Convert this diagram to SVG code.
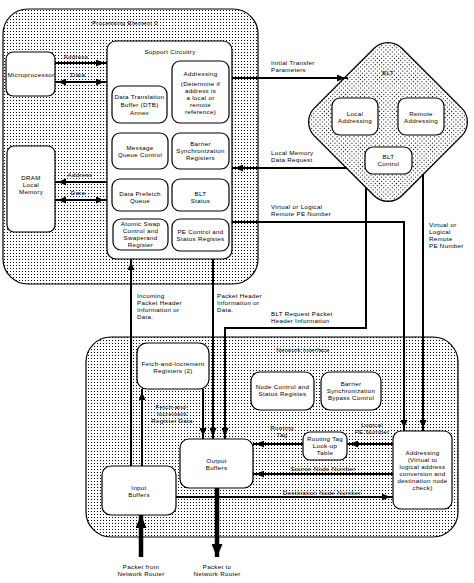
<svg xmlns="http://www.w3.org/2000/svg" width="474" height="583" viewBox="0 0 474 583">
<style>
text{font-family:"Liberation Sans",Arial,sans-serif;font-size:6.2px;letter-spacing:0.3px;fill:#000}
.c{text-anchor:middle}
.outer{fill:url(#dots);stroke:#000;stroke-width:1.2}
.box{fill:#fff;stroke:#000;stroke-width:1.2}
.ln{fill:none;stroke:#000;stroke-width:2}
.ar{marker-end:url(#a)}
.dbl{marker-start:url(#a);marker-end:url(#a)}
.thick{fill:none;stroke:#000;stroke-width:4.5;marker-end:url(#b)}
</style>
<defs>
<pattern id="dots" width="3" height="3" patternUnits="userSpaceOnUse"><rect x="1" y="1" width="1" height="1" fill="#000"/></pattern>
<marker id="a" viewBox="0 0 8 7" refX="11" refY="3.5" markerWidth="8" markerHeight="7" markerUnits="userSpaceOnUse" orient="auto-start-reverse"><path d="M0,0 L8,3.5 L0,7 z" fill="#000"/></marker>
<marker id="b" viewBox="0 0 13 11" refX="13" refY="5.5" markerWidth="13" markerHeight="11" markerUnits="userSpaceOnUse" orient="auto"><path d="M0,0 L13,5.5 L0,11 z" fill="#000"/></marker>
</defs>
<rect width="474" height="583" fill="#fff"/>

<g id="pe0">
<rect class="outer" x="3" y="9" width="255" height="275" rx="25"/>
<text class="c" x="125" y="25">Processing Element 0</text>
</g>
<g id="network-interface">
<rect class="outer" x="86" y="337" width="372" height="200" rx="25"/>
<text class="c" x="303" y="352">Network Interface</text>
</g>
<g id="blt">
<rect class="outer" x="-62" y="-62" width="124" height="124" rx="20" transform="translate(388,122) rotate(45)"/>
<text class="c" x="388" y="75">BLT</text>
</g>

<g id="connectors">
<path class="ln ar" d="M55,63 H107"/>
<path class="ln dbl" d="M55,82 H107"/>
<path class="ln ar" d="M107,182 H55"/>
<path class="ln dbl" d="M55,200 H107"/>
<path class="ln ar" d="M232,78 H348"/>
<path class="ln ar" d="M347,168 H232"/>
<path class="ln ar" d="M232,222 H404 V431"/>
<path class="ln ar" d="M423,174 V431"/>
<path class="ln ar" d="M366,187 V328 H225 V439"/>
<path class="ln ar" d="M213,259 V439"/>
<path class="ln ar" d="M131,466 V259"/>
<path class="ln ar" d="M142,466 V389"/>
<path class="ln ar" d="M203,389 V439"/>
<path class="ln ar" d="M303,444 H253"/>
<path class="ln ar" d="M393,444 H347"/>
<path class="ln ar" d="M393,474 H253"/>
<path class="ln ar" d="M176,497 H393"/>
<path class="thick" d="M141,557 V515"/>
<path class="thick" d="M217,488 V557"/>
<text class="c" x="76" y="59">Address</text>
<text class="c" x="78" y="77">Data</text>
<text class="c" x="80" y="177">Address</text>
<text class="c" x="78" y="195">Data</text>
<text x="271" y="65">Initial Transfer</text>
<text x="271" y="72">Parameters</text>
<text x="271" y="155">Local Memory</text>
<text x="271" y="162">Data Request</text>
<text x="271" y="209">Virtual or Logical</text>
<text x="271" y="216">Remote PE Number</text>
<text x="429" y="227">Virtual or</text>
<text x="429" y="234">Logical</text>
<text x="429" y="241">Remote</text>
<text x="429" y="248">PE Number</text>
<text x="271" y="316">BLT Request Packet</text>
<text x="271" y="323">Header Information</text>
<text x="217" y="298">Packet Header</text>
<text x="217" y="305">Information or</text>
<text x="217" y="312">Data.</text>
<text x="137" y="298">Incoming</text>
<text x="137" y="305">Packet Header</text>
<text x="137" y="312">Information or</text>
<text x="137" y="319">Data.</text>
<text class="c" x="172" y="409">Fetch-and-</text>
<text class="c" x="172" y="416">Increment</text>
<text class="c" x="172" y="423">Register Data</text>
<text class="c" x="282" y="430">Routing</text>
<text class="c" x="282" y="437">Tag</text>
<text class="c" x="372" y="427">Logical</text>
<text class="c" x="372" y="434">PE Number</text>
<text class="c" x="323" y="471">Source Node Number</text>
<text class="c" x="322" y="494.5">Destination Node Number</text>
<text class="c" x="141" y="569">Packet from</text>
<text class="c" x="141" y="576">Network Router</text>
<text class="c" x="217" y="569">Packet to</text>
<text class="c" x="217" y="576">Network Router</text>
</g>

<g id="microprocessor">
<rect class="box" x="6" y="52" width="49" height="44" rx="7"/>
<text class="c" x="31" y="77" textLength="47" lengthAdjust="spacingAndGlyphs">Microprocessor</text>
</g>
<g id="dram">
<rect class="box" x="7" y="146" width="48" height="86" rx="7"/>
<text class="c" x="31" y="180">DRAM</text>
<text class="c" x="31" y="187">Local</text>
<text class="c" x="31" y="194">Memory</text>
</g>
<g id="support-circuitry">
<rect class="box" x="107" y="41" width="125" height="218" rx="9"/>
<text class="c" x="170" y="54">Support Circuitry</text>
</g>
<g id="dtb">
<rect class="box" x="112" y="86" width="55" height="37" rx="8"/>
<text class="c" x="139.5" y="99">Data Translation</text>
<text class="c" x="139.5" y="107">Buffer (DTB)</text>
<text class="c" x="139.5" y="115">Annex</text>
</g>
<g id="pe-addressing">
<rect class="box" x="172" y="61" width="57" height="62" rx="8"/>
<text class="c" x="200.5" y="76">Addressing</text>
<text class="c" x="200.5" y="86">(Determine if</text>
<text class="c" x="200.5" y="93">address is</text>
<text class="c" x="200.5" y="100">a local or</text>
<text class="c" x="200.5" y="107">remote</text>
<text class="c" x="200.5" y="114">reference)</text>
</g>
<g id="message-queue">
<rect class="box" x="112" y="133" width="56" height="36" rx="8"/>
<text class="c" x="140" y="150">Message</text>
<text class="c" x="140" y="157">Queue Control</text>
</g>
<g id="barrier-regs">
<rect class="box" x="172" y="133" width="57" height="36" rx="8"/>
<text class="c" x="200.5" y="146">Barrier</text>
<text class="c" x="200.5" y="153">Synchronization</text>
<text class="c" x="200.5" y="160">Registers</text>
</g>
<g id="data-prefetch">
<rect class="box" x="112" y="179" width="56" height="32" rx="8"/>
<text class="c" x="140" y="196">Data Prefetch</text>
<text class="c" x="140" y="203">Queue</text>
</g>
<g id="blt-status">
<rect class="box" x="172" y="179" width="57" height="32" rx="8"/>
<text class="c" x="200.5" y="196">BLT</text>
<text class="c" x="200.5" y="203">Status</text>
</g>
<g id="atomic-swap">
<rect class="box" x="113" y="219" width="55" height="31" rx="8"/>
<text class="c" x="140.5" y="226">Atomic Swap</text>
<text class="c" x="140.5" y="233">Control and</text>
<text class="c" x="140.5" y="240">Swaperand</text>
<text class="c" x="140.5" y="247">Register</text>
</g>
<g id="pe-control">
<rect class="box" x="172" y="219" width="57" height="32" rx="8"/>
<text class="c" x="200.5" y="234">PE Control and</text>
<text class="c" x="200.5" y="241">Status Registes</text>
</g>
<g id="local-addressing">
<rect class="box" x="332" y="98" width="46" height="37" rx="8"/>
<text class="c" x="355" y="116">Local</text>
<text class="c" x="355" y="123">Addressing</text>
</g>
<g id="remote-addressing">
<rect class="box" x="398" y="98" width="46" height="37" rx="8"/>
<text class="c" x="421" y="116">Remote</text>
<text class="c" x="421" y="123">Addressing</text>
</g>
<g id="blt-control">
<rect class="box" x="365" y="147" width="47" height="27" rx="8"/>
<text class="c" x="388.5" y="159">BLT</text>
<text class="c" x="388.5" y="166">Control</text>
</g>
<g id="fetch-increment">
<rect class="box" x="137" y="343" width="72" height="46" rx="10"/>
<text class="c" x="173" y="366">Fetch-and-Increment</text>
<text class="c" x="173" y="373">Registers (2)</text>
</g>
<g id="node-control">
<rect class="box" x="251" y="372" width="63" height="38" rx="9"/>
<text class="c" x="282.5" y="389">Node Control and</text>
<text class="c" x="282.5" y="396">Status Registes</text>
</g>
<g id="barrier-bypass">
<rect class="box" x="321" y="372" width="60" height="38" rx="9"/>
<text class="c" x="351" y="386">Barrier</text>
<text class="c" x="351" y="393">Synchronization</text>
<text class="c" x="351" y="400">Bypass Control</text>
</g>
<g id="routing-tag">
<rect class="box" x="303" y="432" width="44" height="28" rx="7"/>
<text class="c" x="325" y="441">Routing Tag</text>
<text class="c" x="325" y="448">Look-up</text>
<text class="c" x="325" y="455">Table</text>
</g>
<g id="ni-addressing">
<rect class="box" x="393" y="431" width="59" height="78" rx="8"/>
<text class="c" x="422.5" y="455">Addressing</text>
<text class="c" x="422.5" y="462">(Virtual to</text>
<text class="c" x="422.5" y="469">logical address</text>
<text class="c" x="422.5" y="476">conversion and</text>
<text class="c" x="422.5" y="483">destination node</text>
<text class="c" x="422.5" y="490">check)</text>
</g>
<g id="output-buffers">
<rect class="box" x="180" y="439" width="73" height="49" rx="9"/>
<text class="c" x="216.5" y="463">Output</text>
<text class="c" x="216.5" y="470">Buffers</text>
</g>
<g id="input-buffers">
<rect class="box" x="102" y="466" width="74" height="49" rx="9"/>
<text class="c" x="139" y="490">Input</text>
<text class="c" x="139" y="497">Buffers</text>
</g>
</svg>
